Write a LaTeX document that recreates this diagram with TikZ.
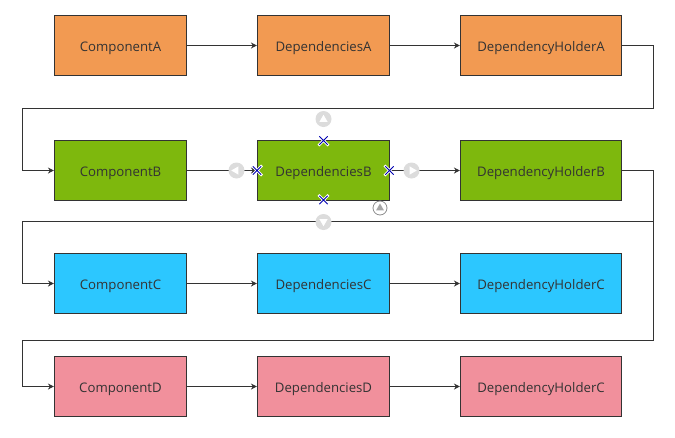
\documentclass[tikz,border=0pt]{standalone}
\usepackage{fontspec}
\setmainfont{Open Sans}
\usetikzlibrary{arrows.meta}
\usetikzlibrary{shapes.geometric}
\usetikzlibrary{shapes.misc}
\definecolor{lineGray}{HTML}{333333}
\definecolor{orangeFill}{HTML}{F29A52}
\definecolor{greenFill}{HTML}{7EB80D}
\definecolor{blueFill}{HTML}{2CC7FF}
\definecolor{pinkFill}{HTML}{F1909C}
\definecolor{handleGray}{HTML}{DCDCDC}
\tikzset{
    block/.style={draw=lineGray, line width=1.1pt, text=lineGray, minimum height=60pt, inner sep=0pt,
        text height=12pt, text depth=1pt, font=\fontsize{13.2}{15}\selectfont},
    short/.style={block, minimum width=132pt},
    long/.style={block, minimum width=161pt},
    link/.style={draw=lineGray, line width=1.1pt, -{Stealth[length=6pt,width=6pt]}},
    halo/.style={cross out, draw=white, line width=2.6pt, minimum size=7.5pt, inner sep=0pt},
    cross/.style={cross out, draw=blue!70!black, line width=0.8pt, minimum size=7.5pt, inner sep=0pt},
    knob/.style={circle, fill=handleGray, minimum size=16pt, inner sep=0pt},
    tri/.style={regular polygon, regular polygon sides=3, fill=white, minimum size=9.5pt, inner sep=0pt},
    ring/.style={circle, draw=black!45, fill=white, line width=0.8pt, minimum size=14pt, inner sep=0pt}
}
\begin{document}
\begin{tikzpicture}[x=1pt, y=-1pt]
    \useasboundingbox (0,0) rectangle (675,437);

    % first row
    \node[short, fill=orangeFill] (compA) at (120.5,45.5) {ComponentA};
    \node[short, fill=orangeFill] (depA) at (323.5,45.5) {DependenciesA};
    \node[long, fill=orangeFill] (holdA) at (541,45.5) {DependencyHolderA};

    % second row
    \node[short, fill=greenFill] (compB) at (120.5,170.5) {ComponentB};
    \node[short, fill=greenFill] (depB) at (323.5,170.5) {DependenciesB};
    \node[long, fill=greenFill] (holdB) at (541,170.5) {DependencyHolderB};

    % third row
    \node[short, fill=blueFill] (compC) at (120.5,283.5) {ComponentC};
    \node[short, fill=blueFill] (depC) at (323.5,283.5) {DependenciesC};
    \node[long, fill=blueFill] (holdC) at (541,283.5) {DependencyHolderC};

    % fourth row
    \node[short, fill=pinkFill] (compD) at (120.5,386.5) {ComponentD};
    \node[short, fill=pinkFill] (depD) at (323.5,386.5) {DependenciesD};
    \node[long, fill=pinkFill] (holdD) at (541,386.5) {DependencyHolderC};

    % links inside a row
    \foreach \row in {A,B,C,D} {
        \draw[link] (comp\row) -- (dep\row);
        \draw[link] (dep\row) -- (hold\row);
    }

    % free ends of the long links
    \coordinate (bendB) at (653.5,221.5);

    % links between rows
    \draw[link] (holdA.east) -- ++(31.5,0) |- (22.5,108.5) |- (compB.west);
    \draw[link] (holdB.east) -- ++(31.5,0) |- (22.5,221.5) |- (compC.west);
    \draw[link] (bendB) |- (22.5,340.5) |- (compD.west);

    % handles of the selected block
    \node[knob] (knobN) at (323.5,119) {};
    \node[knob] (knobS) at (323.5,222) {};
    \node[knob] (knobW) at (236.5,170.5) {};
    \node[knob] (knobE) at (411.5,170.5) {};
    \node[tri, shape border rotate=0] (triN) at (323.5,119.5) {};
    \node[tri, shape border rotate=180] (triS) at (323.5,221.5) {};
    \node[tri, shape border rotate=90] (triW) at (236,170.5) {};
    \node[tri, shape border rotate=-90] (triE) at (412,170.5) {};

    \foreach \name/\pos in {N/{(323.5,140.5)}, S/{(323.5,200)}, W/{(257,170.5)}, E/{(389.5,170.5)}} {
        \node[halo] (halo\name) at \pos {};
        \node[cross] (cross\name) at \pos {};
    }

    \node[ring] (ringS) at (380,208) {};
    \node[regular polygon, regular polygon sides=3, fill=black!35, minimum size=9pt, inner sep=0pt] (ringT) at (380,208) {};
\end{tikzpicture}
\end{document}
